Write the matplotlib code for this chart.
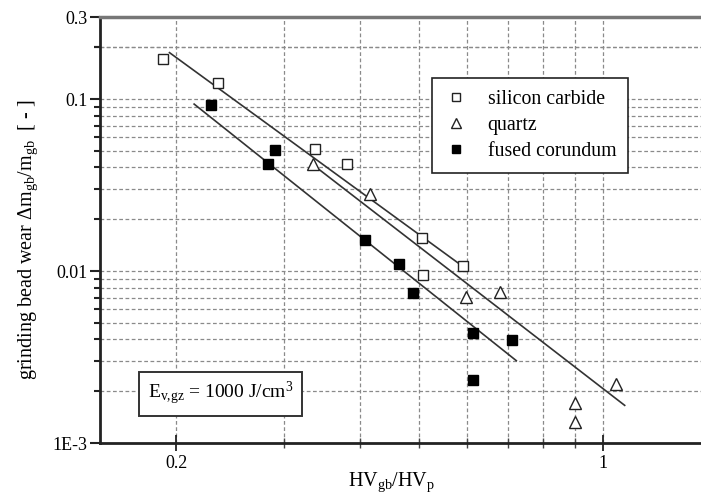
import numpy as np
import matplotlib
matplotlib.use("Agg")
import matplotlib.pyplot as plt
from matplotlib.ticker import FixedLocator, NullFormatter, FixedFormatter

plt.rcParams['font.family'] = ['Liberation Serif', 'DejaVu Serif']
plt.rcParams['mathtext.fontset'] = 'custom'
plt.rcParams['mathtext.rm'] = 'Liberation Serif'
plt.rcParams['mathtext.it'] = 'Liberation Serif:italic'

sic_x = [0.19, 0.234, 0.338, 0.381, 0.506, 0.508, 0.591]
sic_y = [0.171, 0.124, 0.0512, 0.0419, 0.0156, 0.0095, 0.0107]
quartz_x = [0.335, 0.416, 0.598, 0.680, 1.05, 0.90, 0.90]
quartz_y = [0.042, 0.028, 0.00706, 0.00755, 0.0022, 0.00171, 0.00132]
cor_x = [0.228, 0.290, 0.283, 0.408, 0.463, 0.489, 0.612, 0.711, 0.612]
cor_y = [0.0923, 0.0505, 0.0419, 0.0151, 0.0110, 0.00745, 0.00436, 0.00397, 0.00232]

# power law fit lines y = c * x**n, drawn between xmin and xmax
fit_c = [0.00272, 0.00208, 0.00120]
fit_n = [-2.585, -2.738, -2.825]
fit_xmin = [0.195, 0.333, 0.214]
fit_xmax = [0.582, 1.087, 0.722]

labels = ['silicon carbide', 'quartz', 'fused corundum']

fig = plt.figure(figsize=(7.01, 4.99), dpi=100)
ax = fig.add_axes([100/701, 56/499, 610/701, 426/499])
ax.set_xscale('log')
ax.set_yscale('log')
ax.set_xlim(0.15, 1.5)
ax.set_ylim(1e-3, 0.3)

# grid
grid_kw = dict(color='#8a8a8a', lw=0.9, ls=(0, (3, 2)), zorder=0)
for xv in [0.2, 0.3, 0.4, 0.5, 0.6, 0.7, 0.8, 0.9, 1.0]:
    ax.axvline(xv, **grid_kw)
ygrid = [k * 10.0**e for e in (-3, -2, -1) for k in range(1, 10)] + [0.2]
for yv in ygrid:
    if 1e-3 < yv < 0.3:
        ax.axhline(yv, **grid_kw)

# fit lines
for c, n, x0, x1 in zip(fit_c, fit_n, fit_xmin, fit_xmax):
    xx = np.array([x0, x1])
    ax.plot(xx, c * xx**n, color='#333333', lw=1.2, zorder=2)

ms = 7
ax.plot(sic_x, sic_y, ls='none', marker='s', ms=ms, mfc='white', mec='#222222',
        mew=1.0, label=labels[0], zorder=3)
ax.plot(quartz_x, quartz_y, ls='none', marker='^', ms=ms + 1, mfc='white', mec='#222222',
        mew=1.0, label=labels[1], zorder=3)
ax.plot(cor_x, cor_y, ls='none', marker='s', ms=ms, mfc='black', mec='black',
        mew=1.0, label=labels[2], zorder=3)

# axes styling
ax.spines['top'].set_color('#777777')
ax.spines['top'].set_linewidth(2.5)
ax.spines['right'].set_visible(False)
for s in ('left', 'bottom'):
    ax.spines[s].set_color('#222222')
    ax.spines[s].set_linewidth(2.0)

ax.yaxis.set_major_locator(FixedLocator([1e-3, 0.01, 0.1, 0.3]))
ax.yaxis.set_major_formatter(FixedFormatter(['1E-3', '0.01', '0.1', '0.3']))
ax.yaxis.set_minor_locator(FixedLocator([y for y in ygrid if 1e-3 < y < 0.3 and y not in (0.01, 0.1)]))
ax.yaxis.set_minor_formatter(NullFormatter())
ax.xaxis.set_major_locator(FixedLocator([0.2, 1.0]))
ax.xaxis.set_major_formatter(FixedFormatter(['0.2', '1']))
ax.xaxis.set_minor_locator(FixedLocator([0.3, 0.4, 0.5, 0.6, 0.7, 0.8, 0.9]))
ax.xaxis.set_minor_formatter(NullFormatter())

ax.tick_params(axis='y', which='major', direction='out', length=7, width=1.5,
               labelsize=13, pad=2, color='#222222')
ax.tick_params(axis='y', which='minor', direction='out', length=4, width=1.5, color='#222222')
ax.tick_params(axis='x', which='major', direction='inout', length=12, width=1.3,
               labelsize=13, pad=3, color='#222222')
ax.tick_params(axis='x', which='minor', direction='inout', length=7, width=1.0, color='#444444')
ax.tick_params(right=False, top=False, which='both')

ax.set_xlabel(r'HV$_{\mathrm{gb}}$/HV$_{\mathrm{p}}$', fontsize=14.5)
ax.xaxis.set_label_coords((392 - 100) / 610, -(471 - 443) / 426)
ax.set_ylabel(r'grinding bead wear $\Delta$m$_{\mathrm{gb}}$/m$_{\mathrm{gb}}$  [ - ]', fontsize=14.5)
ax.yaxis.set_label_coords(-(100 - 40) / 610, (443 - 240) / 426)

leg = ax.legend(loc='upper left', bbox_to_anchor=(432 / 701, 1 - 78 / 499),
                bbox_transform=fig.transFigure, fontsize=14.3, frameon=True,
                fancybox=False, edgecolor='#222222', framealpha=1,
                handlelength=1.2, handletextpad=1.0, borderpad=0.6,
                labelspacing=0.35, borderaxespad=0, markerscale=0.85)
leg.get_frame().set_linewidth(1.2)
leg.set_zorder(5)

ax.text(0.2367, 0.00193, r'E$_{\mathrm{v{,}gz}}$ = 1000 J/cm$^{3}$', fontsize=14,
        ha='center', va='center', zorder=5,
        bbox=dict(boxstyle='square,pad=0.45', fc='white', ec='#333333', lw=1.4))

fig.savefig('out.png', dpi=100)
